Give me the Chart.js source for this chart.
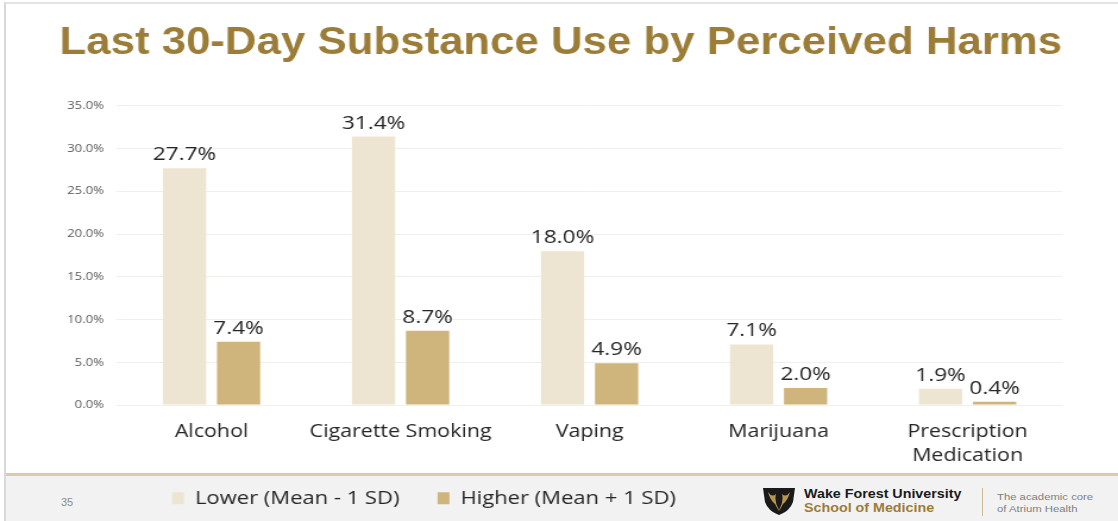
<!DOCTYPE html>
<html>
<head>
<meta charset="utf-8">
<script src="https://cdn.jsdelivr.net/npm/chart.js@4.4.1/dist/chart.umd.min.js"></script>
<style>
  html, body { margin: 0; padding: 0; background: #fff; }
  #slide { position: relative; width: 1118px; height: 521px; overflow: hidden; font-family: "Liberation Sans", Arial, sans-serif; }
  #frame { position: absolute; left: 4px; top: 2px; right: -2px; bottom: 0; border-left: 2px solid #d9d9d9; border-top: 2px solid #e3e3e3; }
  #footer { position: absolute; left: 6px; right: 0; top: 473px; bottom: 0; background: #f2f2f2; border-top: 3px solid #d8cbb0; }
  #pagenum { position: absolute; left: 61px; top: 496px; font-size: 11px; color: #8c8c8c; }
  #logo { position: absolute; left: 762px; top: 486px; }
  .wide { transform: scaleX(1.19); transform-origin: left top; white-space: nowrap; }
  #wfu { position: absolute; left: 804px; top: 487px; font-size: 12px; font-weight: bold; line-height: 14px; color: #1a1a1a; }
  #wfu span { color: #9b7d38; }
  #sep { position: absolute; left: 982px; top: 488px; width: 1px; height: 28px; background: #cbbb95; }
  #core { position: absolute; left: 997px; top: 491px; font-size: 9.5px; line-height: 12px; color: #7f7f7f; }
  #harms-chart { position: absolute; left: 0; top: 0; }
</style>
</head>
<body>
<div id="slide">
  <div id="frame"></div>
  <div id="footer"></div>
  <div id="pagenum">35</div>
  <svg id="logo" width="34" height="30" viewBox="0 0 34 30">
    <path d="M1 2 L33 2 L31 16 Q28 25 17 29 Q6 25 3 16 Z" fill="#1a1a1a"/>
    <path d="M6 6 Q10 12 14 8 Q12 16 17 24 Q22 16 20 8 Q24 12 28 6 Q26 14 21 18 Q19 22 17 25 Q15 22 13 18 Q8 14 6 6 Z" fill="#b8964a"/>
  </svg>
  <div id="wfu" class="wide">Wake Forest University<br><span>School of Medicine</span></div>
  <div id="sep"></div>
  <div id="core" class="wide">The academic core<br>of Atrium Health</div>
  <!-- drawn at 940px wide and stretched to 1118px, like the slide picture -->
  <canvas id="harms-chart" width="940" height="521" style="width:1118px;height:521px"></canvas>
</div>
<script>
const categories = ["Alcohol", "Cigarette Smoking", "Vaping", "Marijuana", ["Prescription", "Medication"]];
const lowerHarm = [27.7, 31.4, 18.0, 7.1, 1.9];
const higherHarm = [7.4, 8.7, 4.9, 2.0, 0.4];
const seriesNames = ["Lower (Mean - 1 SD)", "Higher (Mean + 1 SD)"];

const labelFont = "Open Sans";
const stretch = 1118 / 940;
const legendGap = 32;

// value labels above each bar
const barLabels = {
  id: "barLabels",
  afterDatasetsDraw(chart) {
    const ctx = chart.ctx;
    ctx.save();
    ctx.font = "19px '" + labelFont + "'";
    ctx.fillStyle = "#262626";
    ctx.textAlign = "center";
    ctx.textBaseline = "alphabetic";
    chart.data.datasets.forEach((ds, i) => {
      chart.getDatasetMeta(i).data.forEach((bar, j) => {
        ctx.fillText(ds.data[j].toFixed(1) + "%", bar.x, bar.y - 8);
      });
    });
    ctx.restore();
  }
};

// move the legend into the footer, left of the logo
// (the wide item gap also pads the legend top, so raise its top edge)
const legendShift = {
  id: "legendShift",
  afterLayout(chart) {
    const lg = chart.legend;
    const dx = 424 / stretch - (lg.left + lg.right) / 2;
    lg.left += dx;
    lg.right += dx;
    lg.top -= legendGap - 6;
  }
};

const data_harms = {
  labels: categories,
  datasets: [
    {
      label: seriesNames[0],
      data: lowerHarm,
      backgroundColor: "#ede5d2",
      categoryPercentage: 0.572,
      barPercentage: 0.8,
    },
    {
      label: seriesNames[1],
      data: higherHarm,
      backgroundColor: "#cfb57c",
      categoryPercentage: 0.572,
      barPercentage: 0.8,
    },
  ],
};

const config_harms = {
  type: "bar",
  data: data_harms,
  options: {
    responsive: false,
    animation: false,
    layout: { padding: { left: 50, right: 47, top: 0, bottom: 3 } },
    plugins: {
      title: {
        display: true,
        text: "Last 30-Day Substance Use by Perceived Harms",
        color: "#9b7d38",
        font: { family: "Liberation Sans", size: 39, weight: "bold" },
        padding: { top: 20, bottom: 39 },
      },
      legend: {
        position: "bottom",
        maxHeight: 35,
        labels: {
          color: "#262626",
          font: { family: labelFont, size: 18.5 },
          boxWidth: 10,
          boxHeight: 12,
          padding: legendGap,
        },
      },
      tooltip: { enabled: false },
    },
    scales: {
      x: {
        grid: { display: false, drawTicks: false },
        border: { display: false },
        ticks: {
          color: "#262626",
          font: { family: labelFont, size: 18, lineHeight: 1.33 },
          padding: 15,
          maxRotation: 0,
          autoSkip: false,
        },
      },
      y: {
        min: 0,
        max: 35,
        afterFit(scale) { scale.width = 48.4; },
        grid: { color: "#f2efe8", lineWidth: 1, drawTicks: false },
        border: { display: false },
        ticks: {
          stepSize: 5,
          color: "#595959",
          font: { family: labelFont, size: 11 },
          padding: 11,
          callback: (v) => v.toFixed(1) + "%",
        },
      },
    },
  },
  plugins: [barLabels, legendShift],
};

var ctx_harms = document.getElementById("harms-chart").getContext("2d");
var chart_harms = new Chart(ctx_harms, config_harms);
</script>
</body>
</html>
